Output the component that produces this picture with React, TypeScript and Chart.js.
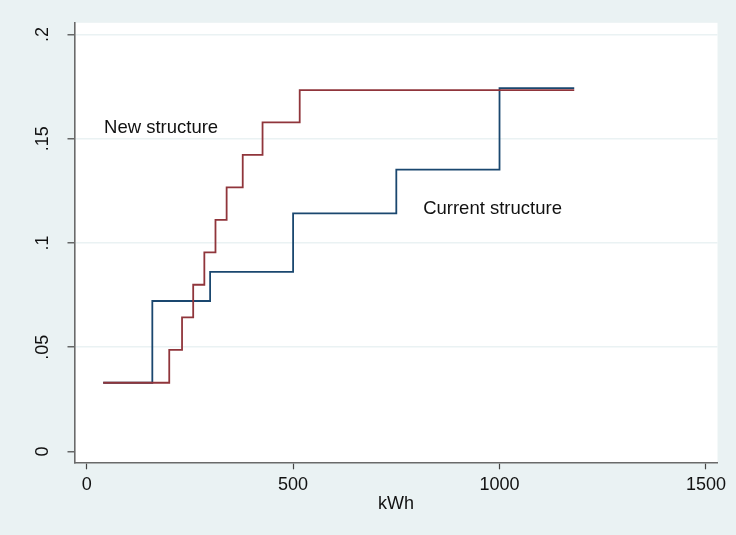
import { useEffect, useRef } from "react";
import { Chart, registerables } from "chart.js";

Chart.register(...registerables);

// ---- data ----
const newKwh = [40, 200, 231, 258, 285, 312, 339, 378, 426, 516, 1181];
const newShare = [0.033, 0.0488, 0.0643, 0.08, 0.0955, 0.1111, 0.1267, 0.1423, 0.1579, 0.1733, 0.1733];
const currentKwh = [40, 159, 299, 500, 750, 1000, 1181];
const currentShare = [0.033, 0.0722, 0.0862, 0.1142, 0.1352, 0.1743, 0.1743];

const xTickValues = [0, 500, 1000, 1500];
const yTickValues = [0, 0.05, 0.1, 0.15, 0.2];
const xAxisTitle = "kWh";

const seriesNames = ["Current structure", "New structure"];
const seriesColors = ["#1A476F", "#90353B"];
// text labels placed in data units (left edge, baseline)
const labelTexts = ["New structure", "Current structure"];
const labelKwh = [42, 815];
const labelShare = [0.1527, 0.114];

const FONT = "'Liberation Sans', Arial, Helvetica, sans-serif";
const BG = "#EAF2F3";

const plotBackground = {
  id: "plotBackground",
  beforeDraw(chart: any) {
    const { ctx, chartArea } = chart;
    ctx.save();
    ctx.fillStyle = "#FFFFFF";
    ctx.fillRect(chartArea.left, chartArea.top, chartArea.right - chartArea.left, chartArea.bottom - chartArea.top);
    ctx.restore();
  },
};

const textLabels = {
  id: "textLabels",
  afterDatasetsDraw(chart: any) {
    const { ctx, scales } = chart;
    ctx.save();
    ctx.fillStyle = "#111111";
    ctx.font = `18.5px ${FONT}`;
    ctx.textAlign = "left";
    ctx.textBaseline = "alphabetic";
    labelTexts.forEach((t, i) => {
      ctx.fillText(t, scales.x.getPixelForValue(labelKwh[i]), scales.y.getPixelForValue(labelShare[i]));
    });
    ctx.restore();
  },
};

function fmtShare(v: number) {
  if (v === 0) return "0";
  return String(Number(v.toFixed(4))).replace(/^0/, "");
}

export default function App() {
  const ref = useRef<HTMLCanvasElement | null>(null);

  useEffect(() => {
    if (!ref.current) return;
    const chart = new Chart(ref.current, {
      type: "line",
      data: {
        datasets: [
          {
            label: seriesNames[0],
            data: currentKwh.map((x, i) => ({ x, y: currentShare[i] })),
            borderColor: seriesColors[0],
            borderWidth: 1.8,
            pointRadius: 0,
            stepped: "before",
            fill: false,
            order: 2,
          },
          {
            label: seriesNames[1],
            data: newKwh.map((x, i) => ({ x, y: newShare[i] })),
            borderColor: seriesColors[1],
            borderWidth: 1.8,
            pointRadius: 0,
            stepped: "before",
            fill: false,
            order: 1,
          },
        ],
      },
      options: {
        animation: false,
        responsive: true,
        maintainAspectRatio: false,
        layout: { padding: { top: 20.7, right: 18.5, left: 0, bottom: 0 } },
        plugins: { legend: { display: false }, tooltip: { enabled: false } },
        scales: {
          x: {
            type: "linear",
            min: -29.5,
            max: 1528,
            afterBuildTicks: (scale: any) => {
              scale.ticks = xTickValues.map((v) => ({ value: v }));
            },
            afterFit: (scale: any) => {
              scale.height = 535 - 462.3;
            },
            grid: {
              drawOnChartArea: false,
              drawTicks: true,
              tickLength: 7,
              tickColor: "#444444",
              tickWidth: 1.2,
            },
            border: { display: true, color: "#6A6A6A", width: 1.6 },
            ticks: {
              color: "#111111",
              font: { family: FONT, size: 18 },
              padding: 5,
              maxRotation: 0,
              minRotation: 0,
              callback: (v: any) => String(v),
            },
            title: {
              display: true,
              text: xAxisTitle,
              color: "#111111",
              font: { family: FONT, size: 18 },
              padding: { top: 0, bottom: 20 },
            },
          },
          y: {
            type: "linear",
            min: -0.00516,
            max: 0.20563,
            afterBuildTicks: (scale: any) => {
              scale.ticks = yTickValues.map((v) => ({ value: v }));
            },
            afterFit: (scale: any) => {
              scale.width = 74.5;
            },
            grid: {
              drawOnChartArea: true,
              color: (ctx: any) => (ctx.tick && ctx.tick.value === 0 ? "rgba(0,0,0,0)" : BG),
              lineWidth: 1.6,
              drawTicks: true,
              tickLength: 7,
              tickColor: "#444444",
              tickWidth: 1.2,
            },
            border: { display: true, color: "#6A6A6A", width: 1.6 },
            ticks: {
              color: "#111111",
              font: { family: FONT, size: 18 },
              minRotation: 90,
              maxRotation: 90,
              crossAlign: "center",
              padding: 12,
              callback: (v: any) => fmtShare(Number(v)),
            },
          },
        },
      },
      plugins: [plotBackground, textLabels],
    } as any);
    return () => chart.destroy();
  }, []);

  return (
    <div style={{ position: "fixed", left: 0, top: 0, width: 736, height: 535, background: BG }}>
      <canvas ref={ref} />
    </div>
  );
}
